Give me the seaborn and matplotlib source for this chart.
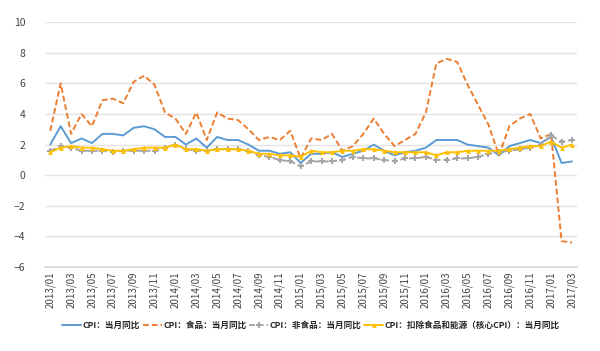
import pandas as pd
import seaborn as sns
import matplotlib.pyplot as plt

# monthly data 2013/01 - 2017/03
months = pd.period_range("2013-01", "2017-03", freq="M").strftime("%Y/%m").tolist()

cpi = [2.0, 3.2, 2.1, 2.4, 2.1, 2.7, 2.7, 2.6, 3.1, 3.2, 3.0, 2.5,
       2.5, 2.0, 2.4, 1.8, 2.5, 2.3, 2.3, 2.0, 1.6, 1.6, 1.4, 1.5,
       0.8, 1.4, 1.4, 1.5, 1.2, 1.4, 1.6, 2.0, 1.6, 1.3, 1.5, 1.6,
       1.8, 2.3, 2.3, 2.3, 2.0, 1.9, 1.8, 1.3, 1.9, 2.1, 2.3, 2.1,
       2.5, 0.8, 0.9]
food = [2.9, 6.0, 2.7, 4.0, 3.2, 4.9, 5.0, 4.7, 6.1, 6.5, 5.9, 4.1,
        3.7, 2.7, 4.1, 2.3, 4.1, 3.7, 3.6, 3.0, 2.3, 2.5, 2.3, 2.9,
        1.1, 2.4, 2.3, 2.7, 1.6, 1.9, 2.7, 3.7, 2.7, 1.9, 2.3, 2.7,
        4.1, 7.3, 7.6, 7.4, 5.9, 4.6, 3.3, 1.3, 3.2, 3.7, 4.0, 2.4,
        2.7, -4.3, -4.4]
nonfood = [1.6, 1.9, 1.8, 1.6, 1.6, 1.6, 1.5, 1.6, 1.6, 1.6, 1.6, 1.8,
           2.0, 1.7, 1.6, 1.6, 1.7, 1.7, 1.7, 1.6, 1.3, 1.2, 1.0, 0.9,
           0.6, 0.9, 0.9, 0.9, 1.0, 1.2, 1.1, 1.1, 1.0, 0.9, 1.1, 1.1,
           1.2, 1.0, 1.0, 1.1, 1.1, 1.2, 1.4, 1.5, 1.6, 1.7, 1.8, 2.0,
           2.6, 2.2, 2.3]
core = [1.5, 1.8, 1.9, 1.8, 1.8, 1.7, 1.6, 1.6, 1.7, 1.8, 1.8, 1.8,
        2.0, 1.7, 1.7, 1.6, 1.7, 1.7, 1.7, 1.6, 1.4, 1.4, 1.3, 1.3,
        1.2, 1.6, 1.5, 1.5, 1.6, 1.6, 1.7, 1.7, 1.6, 1.5, 1.5, 1.5,
        1.5, 1.3, 1.5, 1.5, 1.6, 1.6, 1.6, 1.6, 1.7, 1.8, 1.9, 1.9,
        2.2, 1.8, 2.0]

labels = ["CPI：当月同比", "CPI：食品：当月同比", "CPI：非食品：当月同比",
          "CPI：扣除食品和能源（核心CPI）：当月同比"]

sns.set_theme(style="white")
plt.rcParams["font.family"] = ["Noto Sans CJK SC", "DejaVu Sans"]

df = pd.DataFrame({"idx": range(len(months)), labels[0]: cpi, labels[1]: food,
                   labels[2]: nonfood, labels[3]: core})
long = df.melt(id_vars="idx", var_name="series", value_name="value")

fig = plt.figure(figsize=(6, 3.51), dpi=100)
ax = fig.add_axes([0.075, 0.239, 0.887, 0.698])

styles = [
    dict(color="#5B9BD5", linestyle="-", marker=None),
    dict(color="#ED7D31", linestyle=(0, (3, 1.5)), marker=None),
    dict(color="#A5A5A5", linestyle=(0, (3, 1.5)), marker="P", markersize=4),
    dict(color="#FFC000", linestyle="-", marker="^", markersize=3.5),
]
for lab, st in zip(labels, styles):
    sub = long[long["series"] == lab]
    sns.lineplot(data=sub, x="idx", y="value", ax=ax, label=lab,
                 linewidth=1.4, markeredgewidth=0, **st)

ax.set_xlim(-0.5, len(months) - 0.5)
ax.set_ylim(-6, 10)
ax.set_yticks(range(-6, 11, 2))
ax.set_xticks(range(0, len(months), 2))
ax.set_xticklabels(months[::2], rotation=90, fontsize=7, color="#444444")
ax.tick_params(axis="y", labelsize=7.5, colors="#444444", length=0, pad=14)
ax.tick_params(axis="x", length=0, pad=3)
ax.set_xlabel("")
ax.set_ylabel("")
ax.grid(axis="y", color="#E3E3E3", linewidth=1)
sns.despine(ax=ax, left=True, top=True, right=True)
ax.spines["bottom"].set_color("#D9D9D9")

ax.legend(loc="center", bbox_to_anchor=(0.5, -0.237), ncol=4, frameon=False,
          handlelength=2.2, columnspacing=0.3, handletextpad=0.2,
          prop={"weight": "bold", "size": 6.2})

fig.savefig("out.png", dpi=100)
